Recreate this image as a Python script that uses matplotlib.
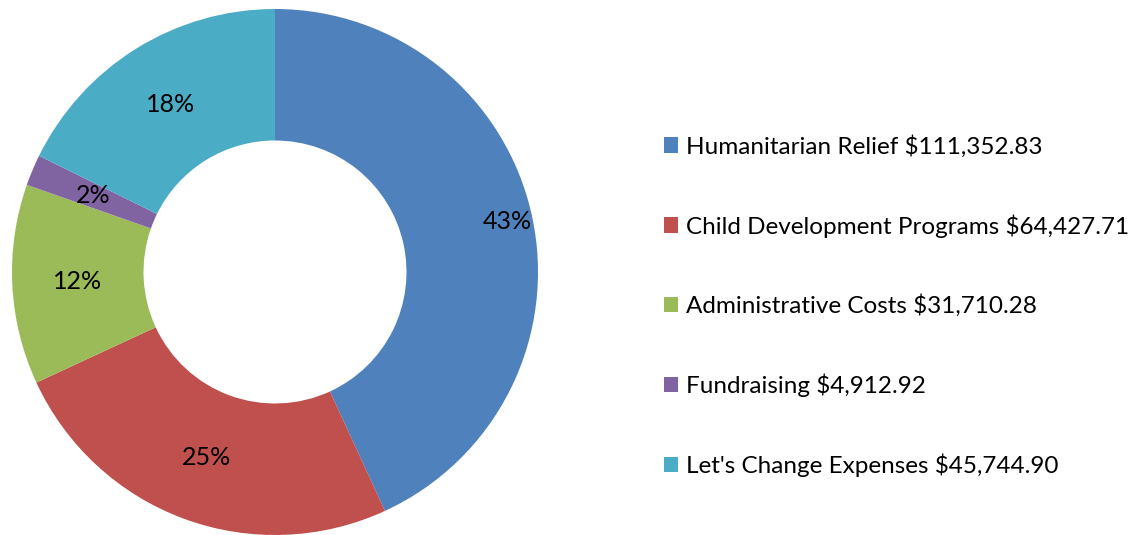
import numpy as np
import matplotlib.pyplot as plt

# expense breakdown
categories = ["Humanitarian Relief", "Child Development Programs", "Administrative Costs",
              "Fundraising", "Let's Change Expenses"]
amounts = [111352.83, 64427.71, 31710.28, 4912.92, 45744.90]
colors = ["#4F81BD", "#C0504D", "#9BBB59", "#8064A2", "#4BACC6"]
label_dist = [0.905, 0.75, 0.75, 0.75, 0.75]

plt.rcParams['font.family'] = ['Lato', 'DejaVu Sans']

fig = plt.figure(figsize=(11.42, 5.35), dpi=100)
ax = fig.add_axes([12/1142, 0, 526/1142, 526/535])

wedges, _ = ax.pie(amounts, colors=colors, startangle=90, counterclock=False,
                   radius=1, wedgeprops=dict(width=0.5, linewidth=0))
ax.set_xlim(-1, 1)
ax.set_ylim(-1, 1)
ax.set_aspect('equal')
ax.axis('off')

total = sum(amounts)
for w, amt, d in zip(wedges, amounts, label_dist):
    ang = np.deg2rad((w.theta1 + w.theta2) / 2)
    ax.text(d * np.cos(ang), d * np.sin(ang), f"{amt / total * 100:.0f}%",
            ha='center', va='center', fontsize=18, color='black')

labels = [f"{c} ${a:,.2f}" for c, a in zip(categories, amounts)]
fig.legend(wedges, labels, loc='upper left', bbox_to_anchor=(654/1142, 1 - 125/535),
           frameon=False, fontsize=17.5, handlelength=0.6, handleheight=0.6,
           handletextpad=0.3, labelspacing=2.33, borderaxespad=0)

fig.savefig("out.png", dpi=100)
